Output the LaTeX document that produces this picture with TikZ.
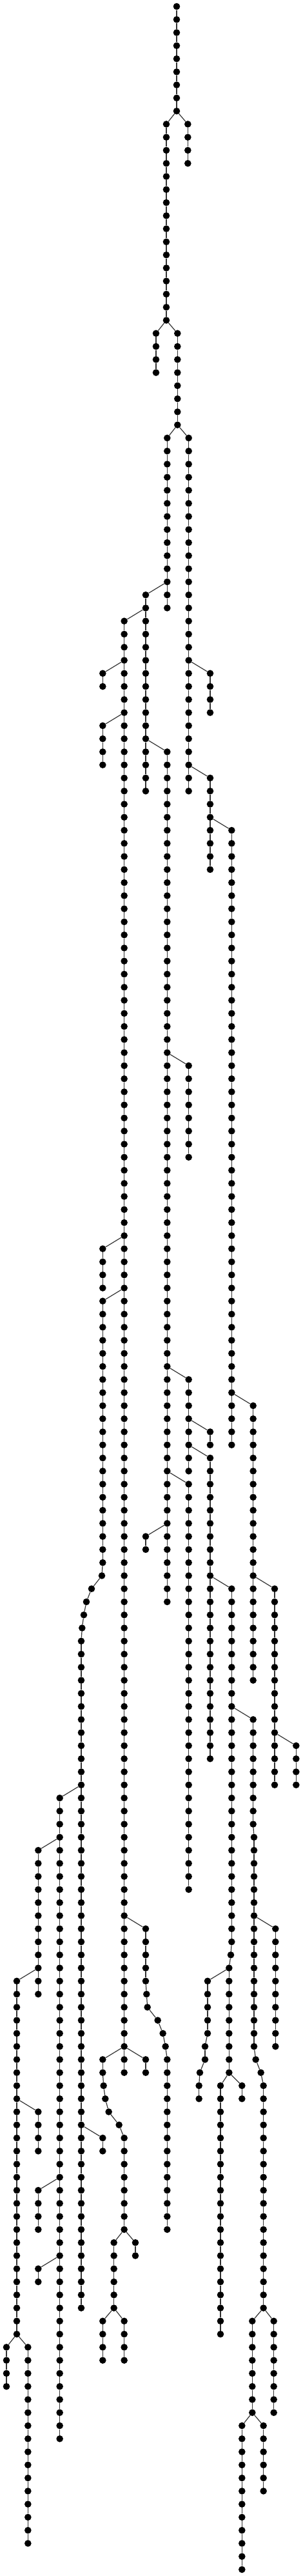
\documentclass[tikz,border=0pt]{standalone}
\tikzset{
  dot/.style={circle,fill=black,draw=none,inner sep=0pt,minimum size=10.6pt},
  edge/.style={draw=black!80,line width=1.2pt}
}
\newcommand\tseg[4]{%
  \foreach \r in {#3,...,#4}{\node[dot] (#1-\r) at (#2,\r) {};}%
  \foreach \r in {#3,...,#4}{\ifnum\r>#3\relax\pgfmathtruncatemacro\p{\r-1}\draw[edge] (#1-\p) -- (#1-\r);\fi}%
}
\newcommand\tvseg[3]{%
  \foreach \xx [count=\r from #2] in {#3}{\node[dot] (#1-\r) at (\xx,\r) {};}%
  \foreach \xx [count=\r from #2] in {#3}{\ifnum\r>#2\relax\pgfmathtruncatemacro\p{\r-1}\draw[edge] (#1-\p) -- (#1-\r);\fi}%
}
\newcommand\tlnk[2]{\draw[edge] (#1) -- (#2);}
\begin{document}
\begin{tikzpicture}[x=0.333333pt,y=-20.27pt]
\useasboundingbox (0,-0.4933) rectangle (1410,196.497);
\tseg{A}{822}{0}{8}
\tseg{B}{874}{9}{12} \tlnk{A-8}{B-9}
\tseg{C}{774}{9}{24} \tlnk{A-8}{C-9}
\tseg{D}{726}{25}{28} \tlnk{C-24}{D-25}
\tseg{E}{826}{25}{32} \tlnk{C-24}{E-25}
\tseg{F}{778}{33}{46} \tlnk{E-32}{F-33}
\tseg{G}{878}{33}{60} \tlnk{E-32}{G-33}
\tseg{H}{678}{45}{60} \tlnk{F-44}{H-45}
\tseg{I}{578}{47}{156} \tlnk{H-46}{I-47}
\tseg{Ja}{478}{51}{52} \tlnk{I-50}{Ja-51}
\tseg{Jb}{478}{55}{58} \tlnk{I-54}{Jb-55}
\tseg{K}{778}{57}{122} \tlnk{H-56}{K-57}
\tseg{La}{978}{51}{54} \tlnk{G-50}{La-51}
\tseg{Lb}{978}{59}{66} \tlnk{G-58}{Lb-59}
\tseg{M}{1078}{63}{110} \tlnk{Lb-62}{M-63}
\tseg{N}{878}{81}{88} \tlnk{K-80}{N-81}
\tseg{Oa}{478}{95}{98} \tlnk{I-94}{Oa-95}
\tseg{O}{478}{99}{119} \tlnk{I-98}{O-99}
\tvseg{O}{120}{474,426,402,390,382}
\tseg{O}{378}{125}{176}
\tlnk{O-119}{O-120} \tlnk{O-124}{O-125}
\tseg{P}{878}{105}{112} \tlnk{K-104}{P-105}
\tseg{Qa}{978}{109}{110} \tlnk{P-108}{Qa-109}
\tseg{Q}{978}{111}{134} \tlnk{P-110}{Q-111}
\tseg{R}{1178}{107}{128} \tlnk{M-106}{R-107}
\tseg{S}{878}{113}{144} \tlnk{K-112}{S-113}
\tseg{T}{678}{117}{118} \tlnk{K-116}{T-117}
\tseg{U}{1078}{121}{148} \tlnk{Q-120}{U-121}
\node[dot] (U-149) at (1074,149) {};
\tseg{U}{1066}{150}{158}
\tlnk{U-148}{U-149} \tlnk{U-149}{U-150}
\tseg{V}{1278}{121}{136} \tlnk{R-120}{V-121}
\tseg{W}{1378}{133}{136} \tlnk{V-132}{W-133}
\tseg{X}{1178}{131}{139} \tlnk{U-130}{X-131}
\tseg{X}{1182}{140}{156}
\tvseg{X}{157}{1190,1214}
\tseg{X}{1226}{159}{176}
\tlnk{X-139}{X-140} \tlnk{X-156}{X-157} \tlnk{X-158}{X-159}
\tseg{Y}{1282}{147}{156} \tlnk{X-146}{Y-147}
\tseg{Z}{278}{137}{186} \tlnk{O-136}{Z-137}
\tseg{AA}{178}{141}{152} \tlnk{Z-140}{AA-141}
\tseg{AB}{78}{151}{178} \tlnk{AA-150}{AB-151}
\tseg{AC}{678}{147}{151} \tlnk{I-146}{AC-147}
\tvseg{AC}{152}{682,686,734,758,770}
\tseg{AC}{778}{157}{170}
\tlnk{AC-151}{AC-152} \tlnk{AC-156}{AC-157}
\tvseg{AD}{151}{966,966,966,966,966,954,954,930,926,926} \tlnk{U-150}{AD-151}
\tseg{AE}{1026}{159}{178} \tlnk{U-158}{AE-159}
\tseg{AF}{1126}{159}{160} \tlnk{U-158}{AF-159}
\tvseg{AG}{157}{478,478,482,490,506,554}
\tseg{AG}{578}{163}{170}
\tlnk{I-156}{AG-157} \tlnk{AG-162}{AG-163}
\tseg{AH}{578}{157}{158} \tlnk{I-156}{AH-157}
\tseg{AI}{678}{157}{158} \tlnk{I-156}{AI-157}
\tseg{AJ}{178}{161}{164} \tlnk{AB-160}{AJ-161}
\tseg{AK}{478}{163}{164} \tlnk{O-162}{AK-163}
\tseg{AL}{178}{167}{170} \tlnk{Z-166}{AL-167}
\tseg{AM}{178}{173}{174} \tlnk{Z-172}{AM-173}
\tseg{AN}{530}{171}{176} \tlnk{AG-170}{AN-171}
\tseg{AO}{630}{171}{172} \tlnk{AG-170}{AO-171}
\tseg{AP}{478}{177}{180} \tlnk{AN-176}{AP-177}
\tseg{AQ}{578}{177}{180} \tlnk{AN-176}{AQ-177}
\tseg{AR}{1174}{177}{184} \tlnk{X-176}{AR-177}
\tseg{AS}{1274}{177}{184} \tlnk{X-176}{AS-177}
\tseg{AT}{30}{179}{182} \tlnk{AB-178}{AT-179}
\tseg{AU}{130}{179}{194} \tlnk{AB-178}{AU-179}
\tseg{AV}{1126}{185}{196} \tlnk{AR-184}{AV-185}
\tseg{AW}{1226}{185}{190} \tlnk{AR-184}{AW-185}
\end{tikzpicture}
\end{document}
